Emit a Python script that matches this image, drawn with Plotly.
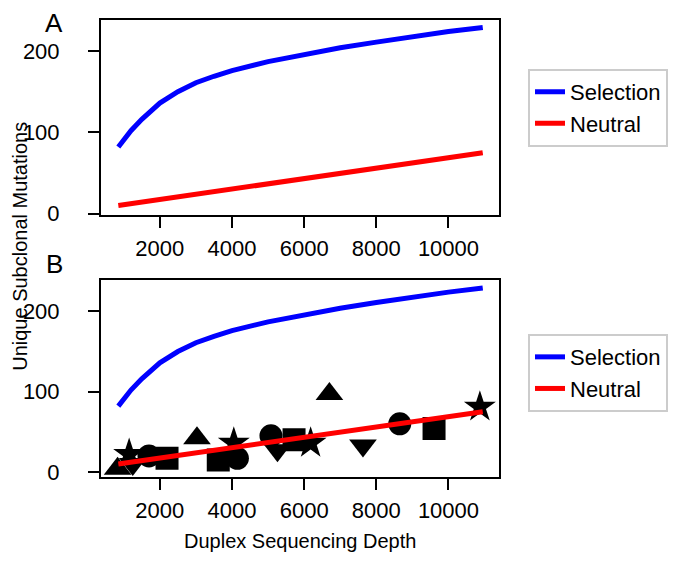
import plotly.graph_objects as go

# ---- data ----
sel_depth = [850, 1000, 1200, 1500, 1800, 2000, 2500, 3000, 3500, 4000, 5000, 6000, 7000, 8000, 9000, 10000, 10950]
selection = [82, 91, 102, 116, 128, 136, 150, 161, 169, 176, 187, 196, 204, 211, 218, 224, 229]
neu_depth = [850, 10950]
neutral = [10, 75]

obs_depth = [830, 1150, 1250, 1700, 2200, 3030, 3620, 4150, 4050, 5080, 5260, 5720, 6180, 6700, 7630, 8650, 9600, 10870]
obs_mut = [4, 22, 10, 20, 17, 42, 15, 17, 36, 45, 27, 40, 36, 97, 33, 60, 54, 81]
obs_symbol = ["triangle-up", "star", "triangle-down", "circle", "square", "triangle-up", "square", "circle", "star",
              "circle", "triangle-down", "square", "star", "triangle-up", "triangle-down", "circle", "square", "star"]

x_ticks = [2000, 4000, 6000, 8000, 10000]
x_ticktext = ["2000", "4000", "6000", "8000", "10000"]
y_ticks = [0, 100, 200]
y_ticktext = ["0", "100", "200"]

# ---- style ----
FONT = "Liberation Sans, Arial, Helvetica, sans-serif"
FS = 22
W, H = 677, 563
size_map = {"triangle-up": 24, "triangle-down": 24, "circle": 23, "square": 23, "star": 24}

def px_x(p):
    return p / W

def px_y(p):
    return 1 - p / H

fig = go.Figure()

# Panel A
fig.add_trace(go.Scatter(x=sel_depth, y=selection, mode="lines", name="Selection",
                         line=dict(color="#0000ff", width=5), xaxis="x", yaxis="y", legend="legend"))
fig.add_trace(go.Scatter(x=neu_depth, y=neutral, mode="lines", name="Neutral",
                         line=dict(color="#ff0000", width=5), xaxis="x", yaxis="y", legend="legend"))

# Panel B
fig.add_trace(go.Scatter(x=sel_depth, y=selection, mode="lines", name="Selection",
                         line=dict(color="#0000ff", width=5), xaxis="x2", yaxis="y2", legend="legend2"))
fig.add_trace(go.Scatter(x=obs_depth, y=obs_mut, mode="markers", showlegend=False,
                         marker=dict(symbol=obs_symbol, color="black", opacity=1,
                                     size=[size_map[s] for s in obs_symbol], line=dict(width=0)),
                         xaxis="x2", yaxis="y2", cliponaxis=True))
fig.add_trace(go.Scatter(x=neu_depth, y=neutral, mode="lines", name="Neutral",
                         line=dict(color="#ff0000", width=5), xaxis="x2", yaxis="y2", legend="legend2"))

xdom = [px_x(93), px_x(491)]
axis_common = dict(showline=True, linecolor="black", linewidth=2, mirror=True, ticks="outside",
                   ticklen=11, tickwidth=2, tickcolor="black", showgrid=False, zeroline=False,
                   tickfont=dict(family=FONT, size=FS, color="black"))

fig.update_layout(
    width=W, height=H,
    margin=dict(l=0, r=0, t=0, b=0),
    paper_bgcolor="white", plot_bgcolor="white",
    font=dict(family=FONT, size=FS, color="black"),
    xaxis=dict(domain=xdom, range=[370, 11400], tickvals=x_ticks, ticktext=x_ticktext, anchor="y",
               ticklabelstandoff=2, **axis_common),
    yaxis=dict(domain=[px_y(211), px_y(12)], range=[-1, 238.5], tickvals=y_ticks, ticktext=y_ticktext,
               anchor="x", ticklabelstandoff=24, **axis_common),
    xaxis2=dict(domain=xdom, range=[370, 11400], tickvals=x_ticks, ticktext=x_ticktext, anchor="y2",
                ticklabelstandoff=2, **axis_common),
    yaxis2=dict(domain=[px_y(479), px_y(278)], range=[-6, 239], tickvals=y_ticks, ticktext=y_ticktext,
                anchor="x2", ticklabelstandoff=24, **axis_common),
    legend=dict(x=px_x(520), y=px_y(102), xanchor="left", yanchor="middle",
                bordercolor="#cccccc", borderwidth=2, bgcolor="white",
                font=dict(family=FONT, size=FS, color="black")),
    legend2=dict(x=px_x(520), y=px_y(373), xanchor="left", yanchor="middle",
                 bordercolor="#cccccc", borderwidth=2, bgcolor="white",
                 font=dict(family=FONT, size=FS, color="black")),
    annotations=[
        dict(text="A", x=px_x(46), y=px_y(15), xref="paper", yref="paper", showarrow=False,
             font=dict(family=FONT, size=26, color="black"), xanchor="center", yanchor="middle"),
        dict(text="B", x=px_x(46), y=px_y(262), xref="paper", yref="paper", showarrow=False,
             font=dict(family=FONT, size=26, color="black"), xanchor="center", yanchor="middle"),
        dict(text="Unique Subclonal Mutations", x=px_x(12), y=px_y(244), xref="paper", yref="paper",
             showarrow=False, textangle=-90, font=dict(family=FONT, size=20, color="black"),
             xanchor="center", yanchor="middle", borderpad=0),
        dict(text="Duplex Sequencing Depth", x=(xdom[0] + xdom[1]) / 2, y=px_y(545), xref="paper",
             yref="paper", showarrow=False, font=dict(family=FONT, size=20, color="black"),
             xanchor="center", yanchor="middle"),
    ],
)

fig.write_html("out.html")
